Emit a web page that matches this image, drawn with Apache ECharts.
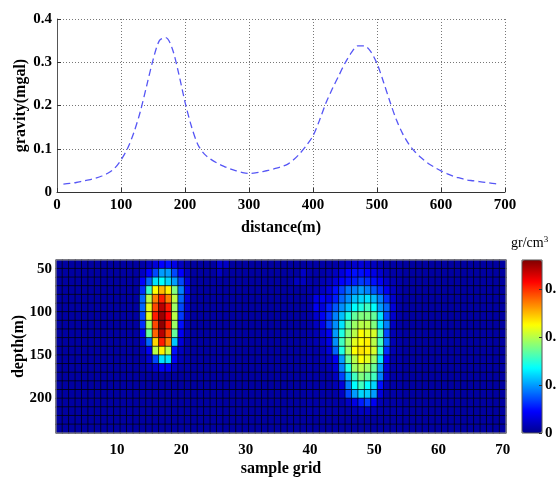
<!DOCTYPE html>
<html>
<head>
<meta charset="utf-8">
<script src="https://cdn.jsdelivr.net/npm/echarts@6/dist/echarts.min.js"></script>
<style>
  html, body { margin: 0; padding: 0; background: #fff; }
  #chart { width: 556px; height: 478px; }
</style>
</head>
<body>
<div id="chart"></div>
<script>
// 上图：重力异常曲线
var distances = [10, 20, 30, 40, 50, 60, 70, 80, 90, 100, 110, 120, 130, 140, 150, 160, 170, 180, 190, 200,
  210, 220, 230, 240, 250, 260, 270, 280, 290, 300, 310, 320, 330, 340, 350, 360, 370, 380, 390, 400,
  410, 420, 430, 440, 450, 460, 470, 480, 490, 500, 510, 520, 530, 540, 550, 560, 570, 580, 590, 600,
  610, 620, 630, 640, 650, 660, 670, 680, 690];
var gravity = [0.018, 0.020, 0.022, 0.025, 0.028, 0.032, 0.037, 0.044, 0.055, 0.074, 0.100, 0.137, 0.185, 0.245, 0.305, 0.350, 0.357, 0.332, 0.275, 0.208,
  0.152, 0.110, 0.088, 0.076, 0.067, 0.060, 0.054, 0.049, 0.045, 0.043, 0.044, 0.047, 0.050, 0.054, 0.058, 0.064, 0.075, 0.090, 0.108, 0.130,
  0.165, 0.205, 0.238, 0.268, 0.298, 0.322, 0.338, 0.338, 0.325, 0.297, 0.255, 0.210, 0.168, 0.135, 0.110, 0.092, 0.078, 0.066, 0.057, 0.049,
  0.042, 0.036, 0.032, 0.028, 0.026, 0.024, 0.022, 0.020, 0.018];

// 下图：密度网格
var gridCols = [1, 2, 3, 4, 5, 6, 7, 8, 9, 10, 11, 12, 13, 14, 15, 16, 17, 18, 19, 20,
  21, 22, 23, 24, 25, 26, 27, 28, 29, 30, 31, 32, 33, 34, 35, 36, 37, 38, 39, 40,
  41, 42, 43, 44, 45, 46, 47, 48, 49, 50, 51, 52, 53, 54, 55, 56, 57, 58, 59, 60,
  61, 62, 63, 64, 65, 66, 67, 68, 69, 70];
var depths = [45, 55, 65, 75, 85, 95, 105, 115, 125, 135, 145, 155, 165, 175, 185, 195, 205, 215, 225, 235];
var background = 0.015;
// [列, 行, 值]
var faintCells = [[26, 1, 0.05], [27, 1, 0.045], [26, 2, 0.04], [39, 2, 0.045], [38, 3, 0.04], [39, 3, 0.04]];

// 左侧异常体：第14列起，第1行起
var bodyACol = 14;
var bodyA = [
  [0.02, 0.04, 0.06, 0.09, 0.10, 0.07, 0.04, 0.02],
  [0.04, 0.09, 0.14, 0.20, 0.20, 0.14, 0.09, 0.04],
  [0.09, 0.16, 0.25, 0.27, 0.24, 0.20, 0.14, 0.06],
  [0.12, 0.31, 0.45, 0.50, 0.46, 0.36, 0.18, 0.07],
  [0.16, 0.40, 0.54, 0.61, 0.54, 0.40, 0.16, 0.06],
  [0.16, 0.43, 0.58, 0.68, 0.61, 0.38, 0.14, 0.05],
  [0.14, 0.43, 0.61, 0.70, 0.63, 0.40, 0.13, 0.04],
  [0.12, 0.38, 0.58, 0.71, 0.61, 0.38, 0.10, 0.03],
  [0.08, 0.34, 0.56, 0.68, 0.58, 0.34, 0.08, 0.03],
  [0.05, 0.16, 0.48, 0.61, 0.54, 0.23, 0.06, 0.02],
  [0.03, 0.08, 0.40, 0.46, 0.40, 0.10, 0.04, 0.02],
  [0.02, 0.05, 0.14, 0.25, 0.25, 0.08, 0.03, 0.02],
  [0.02, 0.03, 0.05, 0.08, 0.08, 0.04, 0.02, 0.02]
];

// 右侧异常体：第40列起，第1行起
var bodyBCol = 40;
var bodyB = [
  [0.02, 0.02, 0.02, 0.02, 0.02, 0.03, 0.04, 0.05, 0.06, 0.05, 0.04, 0.03, 0.02, 0.02, 0.02],
  [0.02, 0.02, 0.02, 0.03, 0.04, 0.06, 0.09, 0.10, 0.10, 0.09, 0.07, 0.05, 0.03, 0.02, 0.02],
  [0.02, 0.02, 0.03, 0.04, 0.06, 0.09, 0.10, 0.11, 0.13, 0.12, 0.10, 0.08, 0.05, 0.03, 0.02],
  [0.02, 0.03, 0.04, 0.06, 0.10, 0.135, 0.17, 0.18, 0.20, 0.18, 0.15, 0.12, 0.08, 0.04, 0.02],
  [0.02, 0.07, 0.08, 0.07, 0.11, 0.16, 0.19, 0.225, 0.24, 0.25, 0.22, 0.18, 0.12, 0.05, 0.02],
  [0.02, 0.08, 0.06, 0.11, 0.15, 0.19, 0.225, 0.27, 0.29, 0.315, 0.27, 0.20, 0.16, 0.06, 0.02],
  [0.02, 0.05, 0.08, 0.12, 0.18, 0.225, 0.29, 0.34, 0.36, 0.36, 0.34, 0.25, 0.14, 0.05, 0.02],
  [0.02, 0.04, 0.07, 0.135, 0.19, 0.25, 0.34, 0.38, 0.40, 0.40, 0.36, 0.25, 0.18, 0.04, 0.02],
  [0.02, 0.03, 0.05, 0.08, 0.20, 0.29, 0.36, 0.40, 0.45, 0.43, 0.42, 0.32, 0.14, 0.03, 0.02],
  [0.02, 0.03, 0.04, 0.07, 0.19, 0.315, 0.38, 0.43, 0.45, 0.46, 0.40, 0.315, 0.16, 0.03, 0.02],
  [0.02, 0.02, 0.03, 0.06, 0.16, 0.29, 0.38, 0.45, 0.47, 0.46, 0.42, 0.30, 0.12, 0.03, 0.02],
  [0.02, 0.02, 0.03, 0.04, 0.08, 0.20, 0.34, 0.40, 0.45, 0.43, 0.38, 0.25, 0.08, 0.02, 0.02],
  [0.02, 0.02, 0.02, 0.03, 0.06, 0.18, 0.29, 0.38, 0.40, 0.38, 0.34, 0.20, 0.06, 0.02, 0.02],
  [0.02, 0.02, 0.02, 0.02, 0.04, 0.135, 0.225, 0.315, 0.36, 0.34, 0.315, 0.18, 0.05, 0.02, 0.02],
  [0.02, 0.02, 0.02, 0.02, 0.03, 0.06, 0.18, 0.27, 0.315, 0.27, 0.24, 0.10, 0.03, 0.02, 0.02],
  [0.02, 0.02, 0.02, 0.02, 0.02, 0.04, 0.14, 0.20, 0.24, 0.235, 0.20, 0.06, 0.02, 0.02, 0.02],
  [0.02, 0.02, 0.02, 0.02, 0.02, 0.02, 0.04, 0.07, 0.11, 0.135, 0.08, 0.03, 0.02, 0.02, 0.02],
  [0.02, 0.02, 0.02, 0.02, 0.02, 0.02, 0.02, 0.03, 0.04, 0.04, 0.03, 0.02, 0.02, 0.02, 0.02]
];

var colorTicks = [0, 0.72];
var jetColors = ['#00008f', '#0000ff', '#0080ff', '#00ffff', '#80ff80', '#ffff00', '#ff8000', '#ff0000', '#800000'];

var FONT = 'Liberation Serif';

// 组装网格
var grid2d = [];
depths.forEach(function () {
  grid2d.push(gridCols.map(function () { return background; }));
});
faintCells.forEach(function (c) { grid2d[c[1] - 1][c[0] - 1] = c[2]; });
function overlay(body, col0) {
  body.forEach(function (row, r) {
    row.forEach(function (v, c) { grid2d[r][col0 - 1 + c] = v; });
  });
}
overlay(bodyA, bodyACol);
overlay(bodyB, bodyBCol);

var heatData = [];
grid2d.forEach(function (row, r) {
  row.forEach(function (v, c) { heatData.push([c, r, v]); });
});

var lineData = distances.map(function (d, i) { return [d, gravity[i]]; });

var labelStyle = { fontFamily: FONT, fontWeight: 'bold', fontSize: 15, color: '#000' };
var nameStyle = { fontFamily: FONT, fontWeight: 'bold', fontSize: 16, color: '#000' };
var dotted = { color: '#777', type: [1, 2], width: 1 };

var chart = echarts.init(document.getElementById('chart'));
chart.setOption({
  animation: false,
  backgroundColor: '#fff',
  title: {
    text: 'gr/cm{sup|3}',
    left: 511,
    top: 235,
    padding: 0,
    textStyle: {
      fontFamily: FONT, fontWeight: 'normal', fontSize: 14, color: '#000',
      rich: { sup: { fontFamily: FONT, fontSize: 9, verticalAlign: 'top', padding: [0, 0, 8, 0] } }
    }
  },
  grid: [
    { left: 57, top: 19, width: 448, height: 173, outerBoundsMode: 'none' },
    { left: 56, top: 260, width: 450, height: 173, show: true, borderColor: '#999', borderWidth: 1, z: 5, outerBoundsMode: 'none' },
    { left: 522, top: 260, width: 20, height: 173, show: true, borderColor: '#555', borderWidth: 1, z: 10, outerBoundsMode: 'none' }
  ],
  xAxis: [
    {
      gridIndex: 0, type: 'value', min: 0, max: 700, interval: 100,
      name: 'distance(m)', nameLocation: 'middle', nameGap: 28, nameMoveOverlap: false, nameTextStyle: nameStyle,
      axisLine: { lineStyle: { color: '#333' } },
      axisTick: { inside: true, length: 4, lineStyle: { color: '#333' } },
      axisLabel: Object.assign({ margin: 6 }, labelStyle),
      splitLine: { show: true, lineStyle: dotted }
    },
    {
      gridIndex: 1, type: 'category', data: gridCols,
      name: 'sample grid', nameLocation: 'middle', nameGap: 28, nameMoveOverlap: false, nameTextStyle: nameStyle,
      axisLine: { show: false },
      axisTick: { show: false },
      axisLabel: Object.assign({
        margin: 10,
        interval: function (i, v) { return Number(v) % 10 === 0; }
      }, labelStyle),
      splitLine: { show: false }
    },
    { gridIndex: 2, type: 'value', show: false, min: 0, max: 1 }
  ],
  yAxis: [
    {
      gridIndex: 0, type: 'value', min: 0, max: 0.4, interval: 0.1,
      name: 'gravity(mgal)', nameLocation: 'middle', nameRotate: 90, nameGap: 28, nameMoveOverlap: false, nameTextStyle: nameStyle,
      axisLine: { show: true, lineStyle: { color: '#555' } },
      axisTick: { show: true, inside: true, length: 4, lineStyle: { color: '#333' } },
      axisLabel: Object.assign({ margin: 5, formatter: function (v) { return v === 0 ? '0' : v.toFixed(1); } }, labelStyle),
      splitLine: { show: true, lineStyle: dotted }
    },
    {
      gridIndex: 1, type: 'category', data: depths, inverse: true, show: false
    },
    {
      gridIndex: 1, type: 'value', min: 40, max: 240, interval: 10, inverse: true, position: 'left',
      name: 'depth(m)', nameLocation: 'middle', nameRotate: 90, nameGap: 29, nameMoveOverlap: false, nameTextStyle: nameStyle,
      axisLine: { show: false, onZero: false },
      axisTick: { show: false },
      axisLabel: Object.assign({ margin: 4, formatter: function (v) { return v % 50 === 0 ? String(v) : ''; } }, labelStyle),
      splitLine: { show: false }
    },
    {
      gridIndex: 2, type: 'value', min: colorTicks[0], max: colorTicks[1], interval: 0.2, position: 'right',
      z: 20,
      axisLine: { show: false, onZero: false },
      axisTick: { show: true, inside: true, length: 3, lineStyle: { color: '#333' } },
      axisLabel: Object.assign({
        margin: 3, showMaxLabel: false,
        formatter: function (v) { return v === 0 ? '0' : v.toFixed(1); }
      }, labelStyle),
      splitLine: { show: false }
    }
  ],
  visualMap: {
    type: 'continuous',
    z: 2,
    min: colorTicks[0], max: colorTicks[1],
    seriesIndex: 1,
    calculable: false,
    hoverLink: false,
    realtime: false,
    left: 522, top: 260,
    itemWidth: 20, itemHeight: 173,
    padding: 0,
    text: null,
    showLabel: false,
    inRange: { color: jetColors }
  },
  series: [
    {
      type: 'line',
      xAxisIndex: 0, yAxisIndex: 0,
      data: lineData,
      showSymbol: false,
      smooth: 0.3,
      lineStyle: { color: '#5656f5', width: 1.3, type: [7, 4] }
    },
    {
      type: 'heatmap',
      xAxisIndex: 1, yAxisIndex: 1,
      data: heatData,
      itemStyle: { borderColor: 'rgba(0,0,0,0.85)', borderWidth: 0.8 },
      emphasis: { disabled: true }
    }
  ]
});
</script>
</body>
</html>
